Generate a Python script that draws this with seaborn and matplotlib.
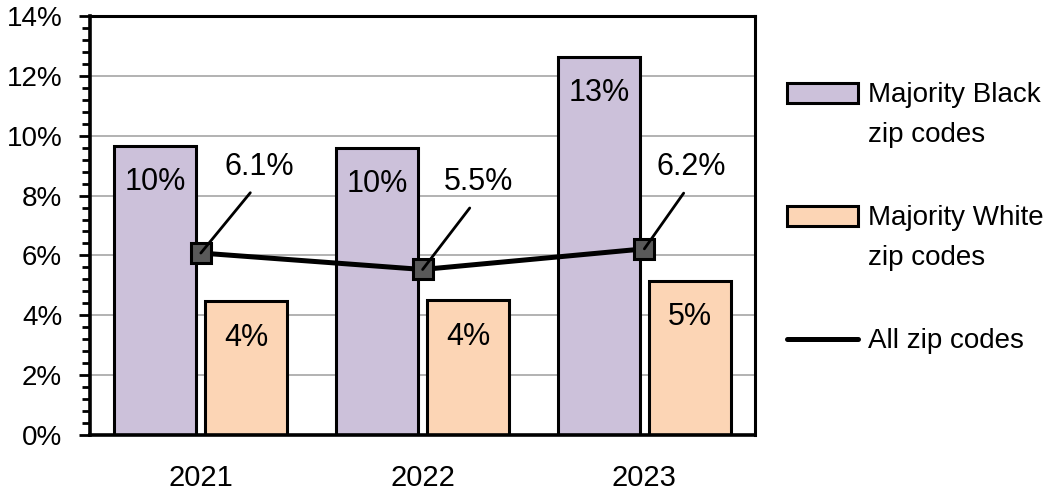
import numpy as np
import pandas as pd
import matplotlib
matplotlib.use("Agg")
import matplotlib.pyplot as plt
import seaborn as sns
from matplotlib.patches import Patch, Rectangle
from matplotlib.lines import Line2D
from matplotlib.legend_handler import HandlerPatch
from matplotlib.ticker import MultipleLocator, FuncFormatter

# -----------------------------
# Data
# -----------------------------
years = ["2021", "2022", "2023"]
black_zip = [9.66, 9.6, 12.63]
white_zip = [4.47, 4.5, 5.15]
all_zip = [6.08, 5.53, 6.22]

black_labels = ["10%", "10%", "13%"]
white_labels = ["4%", "4%", "5%"]
all_labels = ["6.1%", "5.5%", "6.2%"]

series_names = ["Majority Black\nzip codes", "Majority White\nzip codes"]
line_name = "All zip codes"

purple = "#CCC1DA"
peach = "#FCD5B5"

df = pd.DataFrame({
    "Year": years * 2,
    "Share": black_zip + white_zip,
    "Group": [series_names[0]] * len(years) + [series_names[1]] * len(years),
})

# -----------------------------
# Plot
# -----------------------------
sns.set_style("white")
plt.rcParams["font.family"] = ["Liberation Sans", "DejaVu Sans"]
plt.rcParams["text.color"] = "black"
plt.rcParams["xtick.color"] = "black"
plt.rcParams["ytick.color"] = "black"
plt.rcParams["axes.labelcolor"] = "black"

fig = plt.figure(figsize=(10.51, 5.0), dpi=100)
ax = fig.add_axes([0.0856, 0.13, 0.633, 0.838])

sns.barplot(data=df, x="Year", y="Share", hue="Group", palette=[purple, peach],
            saturation=1, width=0.82, gap=0.1, edgecolor="black", linewidth=2.2,
            legend=False, ax=ax)

ax.bar_label(ax.containers[0], labels=black_labels, padding=-37, fontsize=22)
ax.bar_label(ax.containers[1], labels=white_labels, padding=-37, fontsize=22)

# overall line, on the categorical positions
xpos = np.arange(len(years))
ax.plot(xpos, all_zip, color="black", lw=3.6, marker="s", markersize=15,
        markerfacecolor="#595959", markeredgecolor="black", markeredgewidth=2.2, zorder=5)

# value labels with leader lines
label_offsets = [(42, 62), (40, 63), (34, 59)]
for i, (val, lbl) in enumerate(zip(all_zip, all_labels)):
    ax.annotate(lbl, xy=(xpos[i], val), xytext=label_offsets[i], textcoords="offset points",
                ha="center", va="center", fontsize=22, zorder=6,
                arrowprops=dict(arrowstyle="-", color="black", lw=2, shrinkA=7, shrinkB=0,
                                relpos=(0.5, 0)))

# axes styling
ax.set_xlim(-0.5, 2.5)
ax.set_ylim(0, 14)
ax.set_xlabel("")
ax.set_ylabel("")
ax.yaxis.set_major_locator(MultipleLocator(2))
ax.yaxis.set_minor_locator(MultipleLocator(0.4))
ax.yaxis.set_major_formatter(FuncFormatter(lambda v, p: f"{v:.0f}%"))
ax.tick_params(axis="y", which="major", direction="out", length=8, width=2,
               labelsize=20, pad=12, left=True)
ax.tick_params(axis="y", which="minor", direction="out", length=6, width=2, left=True)
ax.tick_params(axis="x", length=0, labelsize=21, pad=21)
ax.yaxis.grid(True, which="major", color="#A6A6A6", lw=1.2)
ax.set_axisbelow(True)
for side in ["left", "bottom"]:
    ax.spines[side].set_linewidth(2.6)
for side in ["top", "right"]:
    ax.spines[side].set_linewidth(2.2)
for s in ax.spines.values():
    s.set_color("black")

# legend: patch sits next to the first line of a two-line label
line_shift = 16.5


def top_patch(legend, orig_handle, xdescent, ydescent, width, height, fontsize):
    return Rectangle((-xdescent, -ydescent + line_shift), width, height)


handles = [Patch(facecolor=purple, edgecolor="black", lw=2.2),
           Patch(facecolor=peach, edgecolor="black", lw=2.2),
           Line2D([], [], color="black", lw=3.6)]
leg = fig.legend(handles, series_names + [line_name], loc="upper left",
                 bbox_to_anchor=(0.7488, 0.835), frameon=False, fontsize=20,
                 handlelength=2.56, handleheight=0.7, handletextpad=0.36,
                 labelspacing=2.05, borderpad=0, borderaxespad=0,
                 handler_map={Patch: HandlerPatch(patch_func=top_patch)})
for t in leg.get_texts():
    t.set_linespacing(1.7)

fig.savefig("out.png", dpi=100)
